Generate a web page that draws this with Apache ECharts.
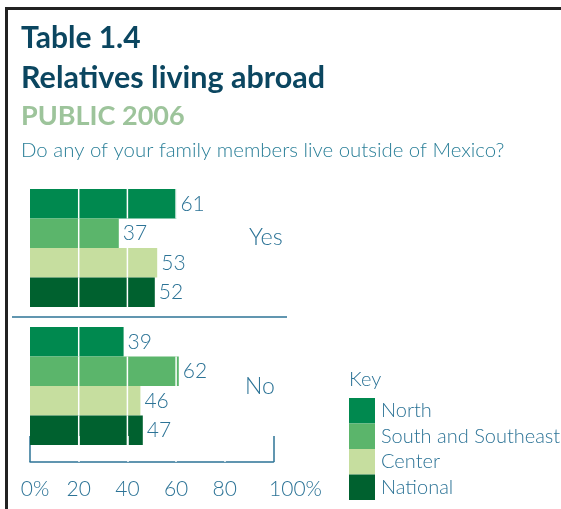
<!DOCTYPE html>
<html><head><meta charset="utf-8">
<script src="https://cdn.jsdelivr.net/npm/echarts@6/dist/echarts.min.js"></script>
<style>html,body{margin:0;padding:0;background:#fff}#c{width:561px;height:509px}</style>
</head><body><div id="c"></div>
<script>
const groups = ['Yes', 'No'];
const regions = ['North', 'South and Southeast', 'Center', 'National'];
const yesValues = [61, 37, 53, 52];
const noValues = [39, 62, 46, 47];
const tickLabels = ['0%', '20', '40', '60', '80', '100%'];
const gridValues = [20, 40, 60, 80];
const regionColors = ['#00894f', '#5bb56b', '#c6de9f', '#00612f'];

const FONT = 'Lato';
const BLUE = '#2c7396';
const groupValues = [yesValues, noValues];
const gridTops = [189, 327];

// grids 0,1: bars; grid 2: bracket axis; grids 3,4: white guide overlays
const grids = gridTops.map(t => ({ left: 30, top: t, width: 240, height: 118 }));
grids.push({ left: 30, top: 436, width: 243.5, height: 26 });
gridTops.forEach(t => grids.push({ left: 30, top: t, width: 243.5, height: 118 }));

const hiddenX = g => ({
  gridIndex: g, type: 'value', min: 0, max: 100, interval: 20,
  axisLine: { show: false }, axisTick: { show: false }, axisLabel: { show: false }, splitLine: { show: false }
});
const xAxes = [hiddenX(0), hiddenX(1)];
xAxes.push({
  gridIndex: 2, type: 'value', min: 0, max: 100, interval: 20, position: 'bottom',
  axisLine: { show: true, lineStyle: { color: BLUE, width: 1.5 } },
  axisTick: { show: false },
  splitLine: { show: true, lineStyle: { width: 1.5, color: [BLUE, 'rgba(0,0,0,0)', 'rgba(0,0,0,0)', 'rgba(0,0,0,0)', 'rgba(0,0,0,0)', BLUE] } },
  axisLabel: {
    margin: 17,
    formatter: v => {
      const t = tickLabels[Math.round(v / 20)];
      if (v === 0) return '{a|' + t + '}';
      if (v === 100) return '{b|' + t + '}';
      return '{n|' + t + '}';
    },
    rich: {
      a: { fontFamily: FONT, fontWeight: 300, fontSize: 21, color: BLUE, padding: [0, 0, 0, 10] },
      b: { fontFamily: FONT, fontWeight: 300, fontSize: 21, color: BLUE, padding: [0, 0, 0, 44] },
      n: { fontFamily: FONT, fontWeight: 300, fontSize: 21, color: BLUE }
    }
  }
});
xAxes.push(hiddenX(3), hiddenX(4));

const catY = g => ({
  gridIndex: g, type: 'category', data: regions, inverse: true,
  axisLine: { show: false }, axisTick: { show: false }, axisLabel: { show: false }, splitLine: { show: false }
});
const yAxes = [catY(0), catY(1), { gridIndex: 2, type: 'value', min: 0, max: 1, show: false }, catY(3), catY(4)];

const series = [];
[0, 1].forEach(g => {
  regions.forEach((r, i) => {
    series.push({
      type: 'bar', name: r, xAxisIndex: g, yAxisIndex: g, stack: 'grp' + g,
      barWidth: '100%',
      itemStyle: { color: regionColors[i] },
      data: regions.map((_, k) => k === i ? groupValues[g][i] : '-'),
      label: { show: true, position: 'right', distance: 4, color: BLUE, fontFamily: FONT, fontWeight: 300, fontSize: 21 },
      silent: true
    });
  });
  // white guide lines drawn only inside each bar
  series.push({
    type: 'custom', xAxisIndex: g + 3, yAxisIndex: g + 3, z: 5, silent: true,
    data: groupValues[g].map((v, i) => [v, i]),
    renderItem: (params, api) => {
      const v = api.value(0), idx = api.value(1);
      const c = api.coord([0, idx]);
      const h = api.size([0, 1])[1];
      const children = gridValues.filter(gv => gv < v).map(gv => {
        const x = api.coord([gv, idx])[0];
        return { type: 'line', shape: { x1: x, y1: c[1] - h / 2, x2: x, y2: c[1] + h / 2 }, style: { stroke: '#ffffff', lineWidth: 1.5 } };
      });
      return { type: 'group', children: children };
    }
  });
});
series.push({
  type: 'line', xAxisIndex: 2, yAxisIndex: 2, data: [], z: 10, silent: true,
  markLine: {
    silent: true, symbol: 'none', label: { show: false }, animation: false,
    lineStyle: { color: '#ffffff', width: 1.5, type: 'solid' },
    data: gridValues.map(x => ({ xAxis: x }))
  }
});

const titleStyle = (c, s, w) => ({ color: c, fontSize: s, fontWeight: w, fontFamily: FONT });
const option = {
  animation: false,
  backgroundColor: '#ffffff',
  title: [
    { text: 'Table 1.4', left: 21, top: 23, padding: 0, textStyle: titleStyle('#0b4660', 30, 'bold') },
    { text: 'Relatives living abroad', left: 21, top: 63, padding: 0, textStyle: titleStyle('#0b4660', 30.5, 'bold') },
    { text: 'PUBLIC 2006', left: 21, top: 103, padding: 0, textStyle: titleStyle('#9dc49b', 27, 'bold') },
    { text: 'Do any of your family members live outside of Mexico?', left: 21, top: 140, padding: 0, textStyle: titleStyle('#2a7f98', 20.4, 300) },
    { text: groups[0], left: 249, top: 225, padding: 0, textStyle: titleStyle(BLUE, 23.5, 300) },
    { text: groups[1], left: 245, top: 375, padding: 0, textStyle: titleStyle(BLUE, 23, 300) },
    { text: 'Key', left: 349, top: 370, padding: 0, textStyle: titleStyle(BLUE, 20, 300) }
  ],
  legend: {
    orient: 'vertical', left: 349, top: 398, padding: 0, itemGap: 0,
    itemWidth: 26, itemHeight: 25.5, icon: 'rect', selectedMode: false,
    data: regions,
    textStyle: { color: BLUE, fontFamily: FONT, fontWeight: 300, fontSize: 20, padding: [0, 0, 0, 1] }
  },
  grid: grids, xAxis: xAxes, yAxis: yAxes, series: series,
  graphic: [
    { type: 'line', shape: { x1: 5, y1: 8.5, x2: 561, y2: 8.5 }, style: { stroke: '#222222', lineWidth: 3 } },
    { type: 'line', shape: { x1: 6.5, y1: 7, x2: 6.5, y2: 509 }, style: { stroke: '#222222', lineWidth: 3 } },
    { type: 'line', shape: { x1: 12, y1: 317, x2: 287, y2: 317 }, style: { stroke: BLUE, lineWidth: 1.5 } }
  ]
};
echarts.init(document.getElementById('c')).setOption(option);
</script></body></html>
